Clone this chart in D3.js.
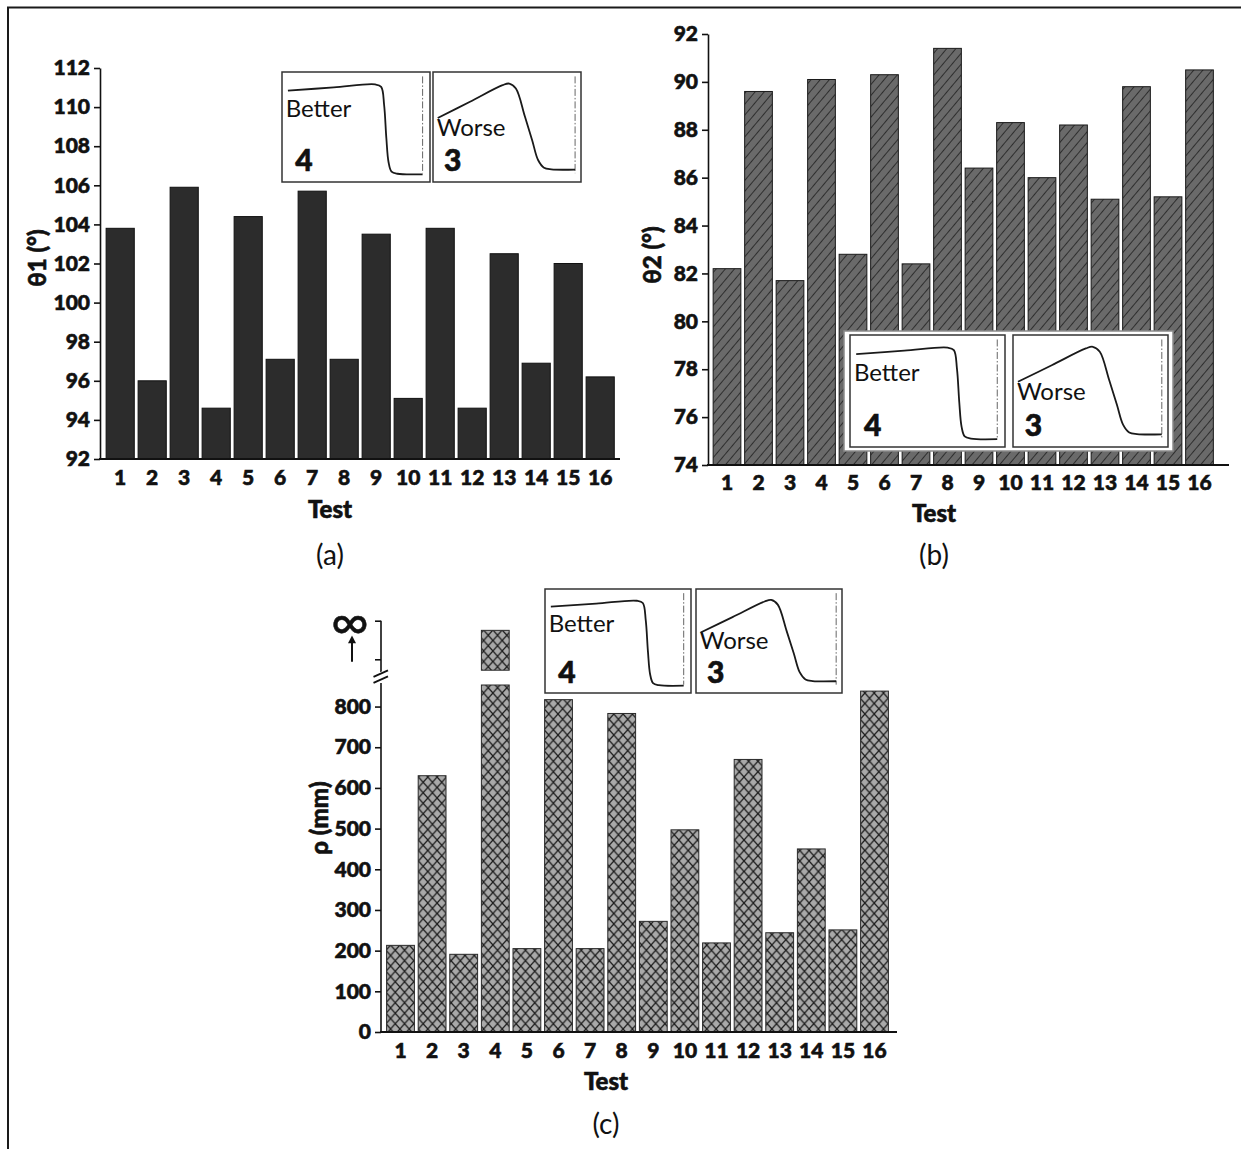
<!DOCTYPE html>
<html>
<head>
<meta charset="utf-8">
<script src="https://cdn.jsdelivr.net/npm/d3@7"></script>
<style>
  html, body { margin: 0; padding: 0; background: #fff; }
  svg { display: block; }
  text { font-family: Lato, "Open Sans", "DejaVu Sans", sans-serif; fill: #111; }
</style>
</head>
<body>
<svg id="chart" width="1241" height="1149"></svg>
<script>
// ---------------- DATA ----------------
const tests = ["1","2","3","4","5","6","7","8","9","10","11","12","13","14","15","16"];
const theta1 = [103.8, 96.0, 105.9, 94.6, 104.4, 97.1, 105.7, 97.1, 103.5, 95.1, 103.8, 94.6, 102.5, 96.9, 102.0, 96.2];
const theta2 = [82.2, 89.6, 81.7, 90.1, 82.8, 90.3, 82.4, 91.4, 86.4, 88.3, 86.0, 88.2, 85.1, 89.8, 85.2, 90.5];
const rho = [213, 630, 191, Infinity, 205, 817, 205, 783, 272, 497, 219, 670, 244, 450, 251, 838];
const theta1Ticks = [92, 94, 96, 98, 100, 102, 104, 106, 108, 110, 112];
const theta2Ticks = [74, 76, 78, 80, 82, 84, 86, 88, 90, 92];
const rhoTicks = [0, 100, 200, 300, 400, 500, 600, 700, 800];
const rhoUpperTicks = [0.4, 1];          // upper (broken) segment: tick below ∞ and ∞ itself
const rhoUpperLabels = ["", "∞"];
// inset sketch curves (normalised box coordinates)
const betterCurve = [[0.04,0.17],[0.35,0.14],[0.63,0.113],[0.67,0.135],[0.69,0.3],[0.705,0.6],[0.72,0.82],[0.74,0.905],[0.78,0.925],[0.95,0.93]];
const worseCurve = [[0.032,0.418],[0.25,0.27],[0.47,0.12],[0.515,0.105],[0.56,0.15],[0.62,0.4],[0.67,0.62],[0.71,0.8],[0.75,0.87],[0.8,0.885],[0.96,0.887]];
const insetLabels = [["Better", "4"], ["Worse", "3"]];

// ---------------- SETUP ----------------
const svg = d3.select("#chart");
svg.append("rect").attr("width", 1241).attr("height", 1149).attr("fill", "#fff");

const defs = svg.append("defs");
// diagonal hatch for (b)
const ph = defs.append("pattern").attr("id", "hatch").attr("patternUnits", "userSpaceOnUse")
  .attr("width", 7).attr("height", 7).attr("patternTransform", "rotate(40)");
ph.append("rect").attr("width", 7).attr("height", 7).attr("fill", "#6a6a6a");
ph.append("line").attr("x1", 0).attr("y1", 0).attr("x2", 0).attr("y2", 7)
  .attr("stroke", "#1a1a1a").attr("stroke-width", 1.5);
// cross hatch for (c)
const pc = defs.append("pattern").attr("id", "cross").attr("patternUnits", "userSpaceOnUse")
  .attr("width", 9.3).attr("height", 10.5);
pc.append("rect").attr("width", 9.3).attr("height", 10.5).attr("fill", "#a9a9a9");
pc.append("path").attr("d", "M0,0L9.3,10.5M9.3,0L0,10.5")
  .attr("stroke", "#1c1c1c").attr("stroke-width", 1.3).attr("fill", "none");

// outer frame (top + left only)
svg.append("line").attr("x1", 7).attr("x2", 1241).attr("y1", 7.5).attr("y2", 7.5).attr("stroke", "#1a1a1a").attr("stroke-width", 2);
svg.append("line").attr("x1", 8).attr("x2", 8).attr("y1", 7).attr("y2", 1149).attr("stroke", "#1a1a1a").attr("stroke-width", 2);

const TICK_FONT = 21;

function boldText(sel) {
  sel.style("font-weight", 900).attr("stroke", "#111").attr("stroke-width", 0.6).attr("paint-order", "stroke");
}

function styleAxis(g) {
  g.selectAll("text").style("font-size", TICK_FONT + "px").attr("fill", "#111").call(boldText);
  g.selectAll("line").attr("stroke", "#111").attr("stroke-width", 1.6);
  g.selectAll(".domain").attr("stroke", "#111").attr("stroke-width", 1.6);
}

function xAxis(x, axisY, x0, x1, pad) {
  const g = svg.append("g").attr("transform", `translate(0,${axisY})`)
    .call(d3.axisBottom(x).tickSize(0).tickPadding(pad));
  g.select(".domain").remove();
  styleAxis(g);
  svg.append("line").attr("x1", x0).attr("x2", x1).attr("y1", axisY).attr("y2", axisY)
    .attr("stroke", "#111").attr("stroke-width", 2);
}

function inset(bx, by, w, h, curve, labels, textV) {
  const g = svg.append("g").attr("transform", `translate(${bx},${by})`);
  g.append("rect").attr("width", w).attr("height", h).attr("fill", "#fff")
    .attr("stroke", "#333").attr("stroke-width", 1.5);
  const u = d3.scaleLinear().domain([0, 1]).range([0, w]);
  const v = d3.scaleLinear().domain([0, 1]).range([0, h]);
  g.append("line").attr("x1", u(curve[curve.length - 1][0])).attr("x2", u(curve[curve.length - 1][0]))
    .attr("y1", v(0.04)).attr("y2", v(0.92))
    .attr("stroke", "#666").attr("stroke-width", 1).attr("stroke-dasharray", "7,2,1.5,2");
  g.append("path").attr("d", d3.line().x(d => u(d[0])).y(d => v(d[1])).curve(d3.curveCatmullRom.alpha(0.5))(curve))
    .attr("fill", "none").attr("stroke", "#1a1a1a").attr("stroke-width", 1.8);
  g.append("text").attr("x", u(0.025)).attr("y", v(textV)).text(labels[0])
    .style("font-size", "24px").style("font-weight", 400);
  g.append("text").attr("x", u(labels[1] === "4" ? 0.09 : 0.075)).attr("y", v(0.9)).text(labels[1])
    .style("font-size", "30px").call(boldText);
}

function insetPair(x1, x2, y, w, h) {
  inset(x1, y, w, h, betterCurve, insetLabels[0], 0.41);
  inset(x2, y, w, h, worseCurve, insetLabels[1], 0.58);
}

function titles(cx, tY, capY, yx, yy, ytxt, cap) {
  svg.append("text").attr("x", cx).attr("y", tY).attr("text-anchor", "middle").text("Test")
    .style("font-size", "24px").call(boldText);
  svg.append("text").attr("x", cx).attr("y", capY).attr("text-anchor", "middle").text(cap)
    .style("font-size", "28px").style("font-weight", 400);
  svg.append("text").attr("transform", `translate(${yx},${yy}) rotate(-90)`).attr("text-anchor", "middle")
    .attr("dominant-baseline", "central").text(ytxt)
    .style("font-size", "24px").call(boldText);
}

// ---------------- PANEL (a) ----------------
{
  const x = d3.scaleBand().domain(tests).range([104.2, 616.2]).paddingInner(0.12).paddingOuter(0.06);
  const y = d3.scaleLinear().domain([92, 112]).range([459, 68]);
  svg.append("g").selectAll("rect").data(theta1).join("rect")
    .attr("x", (d, i) => x(tests[i])).attr("width", x.bandwidth())
    .attr("y", d => y(d)).attr("height", d => y(92) - y(d))
    .attr("fill", "#2c2c2c").attr("stroke", "#111").attr("stroke-width", 1);
  const ya = svg.append("g").attr("transform", "translate(100,0)")
    .call(d3.axisLeft(y).tickValues(theta1Ticks).tickSize(6).tickSizeOuter(0).tickPadding(4));
  styleAxis(ya);
  xAxis(x, 459, 99, 620, 11);
  insetPair(282, 433, 72, 148, 110);
  titles(330, 518, 565, 36, 258, "θ1 (°)", "(a)");
}

// ---------------- PANEL (b) ----------------
{
  const x = d3.scaleBand().domain(tests).range([711.25, 1215.25]).paddingInner(0.12).paddingOuter(0.06);
  const y = d3.scaleLinear().domain([74, 92]).range([465, 34]);
  svg.append("g").selectAll("rect").data(theta2).join("rect")
    .attr("x", (d, i) => x(tests[i])).attr("width", x.bandwidth())
    .attr("y", d => y(d)).attr("height", d => y(74) - y(d))
    .attr("fill", "url(#hatch)").attr("stroke", "#1a1a1a").attr("stroke-width", 1);
  const ya = svg.append("g").attr("transform", "translate(708,0)")
    .call(d3.axisLeft(y).tickValues(theta2Ticks).tickSize(6).tickSizeOuter(0).tickPadding(4));
  styleAxis(ya);
  xAxis(x, 465, 707, 1229, 10);
  svg.append("rect").attr("x", 844).attr("y", 331).attr("width", 329).attr("height", 120)
    .attr("fill", "#fff").attr("stroke", "#8a8a8a").attr("stroke-width", 1.5);
  insetPair(850, 1013, 335, 155, 112);
  titles(934, 522, 565, 651, 255, "θ2 (°)", "(b)");
}

// ---------------- PANEL (c) ----------------
{
  const x = d3.scaleBand().domain(tests).range([384.7, 890.3]).paddingInner(0.12).paddingOuter(0.06);
  const lowerMax = 853;
  const y = d3.scaleLinear().domain([0, lowerMax]).range([1032, 685]);
  const yUp = d3.scaleLinear().domain([0, 1]).range([685, 620.7]);
  const infTop = 0.85, infBottom = 0.23;
  const bars = svg.append("g");
  rho.forEach((d, i) => {
    if (isFinite(d)) {
      bars.append("rect").attr("x", x(tests[i])).attr("width", x.bandwidth())
        .attr("y", y(d)).attr("height", y(0) - y(d))
        .attr("fill", "url(#cross)").attr("stroke", "#2a2a2a").attr("stroke-width", 1);
    } else {
      bars.append("rect").attr("x", x(tests[i])).attr("width", x.bandwidth())
        .attr("y", y(lowerMax)).attr("height", y(0) - y(lowerMax))
        .attr("fill", "url(#cross)").attr("stroke", "#2a2a2a").attr("stroke-width", 1);
      bars.append("rect").attr("x", x(tests[i])).attr("width", x.bandwidth())
        .attr("y", yUp(infTop)).attr("height", yUp(infBottom) - yUp(infTop))
        .attr("fill", "url(#cross)").attr("stroke", "#2a2a2a").attr("stroke-width", 1);
    }
  });
  const ya = svg.append("g").attr("transform", "translate(381,0)")
    .call(d3.axisLeft(y).tickValues(rhoTicks).tickSize(6).tickSizeOuter(0).tickPadding(4));
  ya.select(".domain").attr("d", `M0,${y(0)}V${y(lowerMax) - 2}`);
  styleAxis(ya);
  // upper segment
  const yu = svg.append("g").attr("transform", "translate(381,0)")
    .call(d3.axisLeft(yUp).tickValues(rhoUpperTicks).tickFormat((d, i) => rhoUpperLabels[i]).tickSize(6).tickSizeOuter(0).tickPadding(4));
  yu.select(".domain").attr("d", `M0,${yUp(1)}V${yUp(0.2)}`);
  styleAxis(yu);
  yu.selectAll("text").style("font-size", "52px").style("font-weight", 400)
    .attr("stroke-width", 0.5).attr("dy", "0.36em").attr("x", -12);
  // break marks
  const bm = yUp(0.13);
  [-3, 3].forEach(o => {
    svg.append("line").attr("x1", 373.5).attr("x2", 388).attr("y1", bm + o + 3.3).attr("y2", bm + o - 3.3)
      .attr("stroke", "#fff").attr("stroke-width", 3);
  });
  [-3, 3].forEach(o => {
    svg.append("line").attr("x1", 373.5).attr("x2", 388).attr("y1", bm + o + 3.3).attr("y2", bm + o - 3.3)
      .attr("stroke", "#111").attr("stroke-width", 1.8);
  });
  // arrow toward infinity
  const ax = 352;
  svg.append("line").attr("x1", ax).attr("x2", ax).attr("y1", yUp(0.36)).attr("y2", yUp(0.68))
    .attr("stroke", "#111").attr("stroke-width", 2);
  svg.append("path").attr("d", `M${ax - 4},${yUp(0.65)}L${ax},${yUp(0.77)}L${ax + 4},${yUp(0.65)}Z`).attr("fill", "#111");
  xAxis(x, 1032, 380, 897, 11);
  insetPair(545, 696, 589, 146, 104);
  titles(606, 1090, 1134, 318, 818, "ρ (mm)", "(c)");
}
</script>
</body>
</html>
